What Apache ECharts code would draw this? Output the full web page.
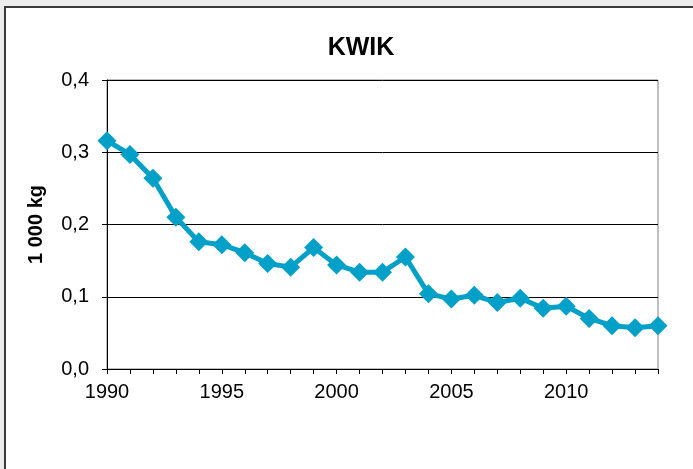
<!DOCTYPE html>
<html>
<head>
<meta charset="utf-8">
<script src="https://cdn.jsdelivr.net/npm/echarts@6/dist/echarts.min.js"></script>
<style>html,body{margin:0;padding:0;background:#ececec;}#c{width:693px;height:469px;}</style>
</head>
<body>
<div id="c"></div>
<script>
const years = ['1990','1991','1992','1993','1994','1995','1996','1997','1998','1999','2000','2001','2002','2003','2004','2005','2006','2007','2008','2009','2010','2011','2012','2013','2014'];
const values = [0.316,0.297,0.264,0.210,0.176,0.172,0.161,0.146,0.141,0.168,0.144,0.134,0.134,0.155,0.104,0.097,0.102,0.092,0.098,0.084,0.087,0.070,0.060,0.057,0.060];
const yTicks = [0, 0.1, 0.2, 0.3, 0.4];
const title = 'KWIK';
const yName = '1 000 kg';

const chart = echarts.init(document.getElementById('c'), null, {renderer: 'canvas'});
chart.setOption({
  backgroundColor: '#ececec',
  animation: false,
  graphic: [{
    type: 'rect', z: -10,
    shape: {x: 5, y: 7, width: 720, height: 500},
    style: {fill: '#ffffff', stroke: '#3a3a3a', lineWidth: 2}
  }],
  title: {
    text: title, left: 356, top: 31, textAlign: 'center',
    textStyle: {fontFamily: 'Liberation Sans', fontSize: 25, fontWeight: 'bold', color: '#000'}
  },
  grid: {left: 107, right: 35, top: 80, bottom: 100, show: true, borderColor: '#808080', borderWidth: 1, backgroundColor: 'transparent'},
  xAxis: {
    type: 'category', data: years, boundaryGap: false,
    axisLine: {lineStyle: {color: '#000', width: 1}},
    axisTick: {show: true, length: 5, interval: 0, lineStyle: {color: '#000'}},
    axisLabel: {
      interval: 4, color: '#000', fontFamily: 'Liberation Sans', fontSize: 20, margin: 13
    },
    splitLine: {show: false}
  },
  yAxis: {
    type: 'value', min: 0, max: 0.4, interval: 0.1,
    name: yName, nameLocation: 'middle', nameGap: 61,
    nameTextStyle: {fontFamily: 'Liberation Sans', fontSize: 20, fontWeight: 'bold', color: '#000'},
    axisLine: {show: true, lineStyle: {color: '#000', width: 1}},
    axisTick: {show: true, length: 5, inside: false, lineStyle: {color: '#000'}},
    axisLabel: {
      color: '#000', fontFamily: 'Liberation Sans', fontSize: 20, margin: 18,
      formatter: v => v.toFixed(1).replace('.', ',')
    },
    splitLine: {show: true, lineStyle: {color: '#000', width: 1}}
  },
  series: [{
    type: 'line', data: values,
    symbol: 'diamond', symbolSize: 19, showAllSymbol: true,
    lineStyle: {color: '#00a0c8', width: 5},
    itemStyle: {color: '#00a0c8'},
    clip: false
  }]
});
</script>
</body>
</html>
